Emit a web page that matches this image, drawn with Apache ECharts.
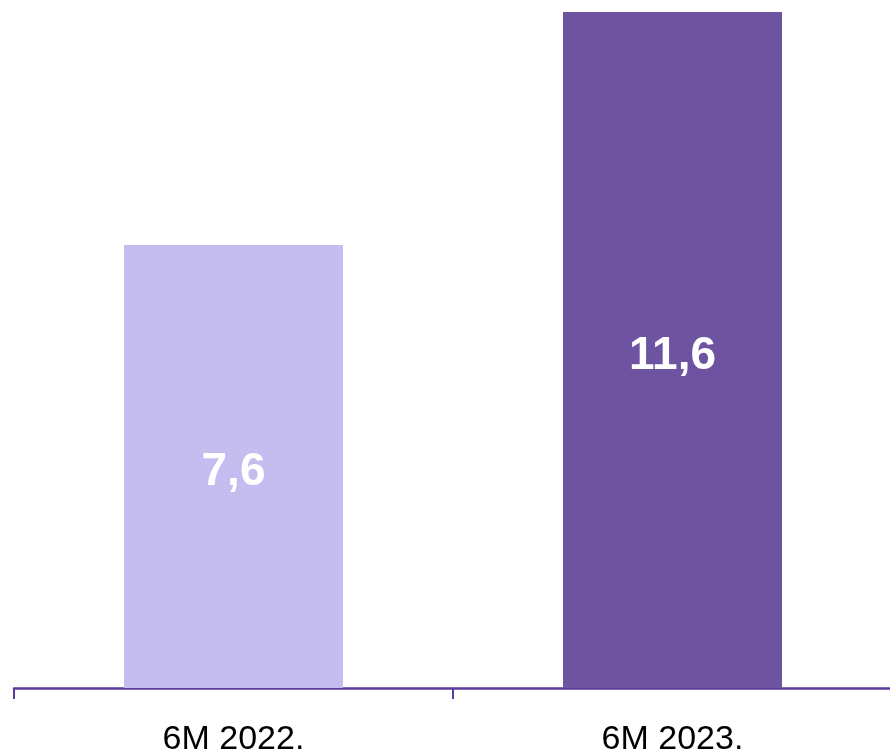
<!DOCTYPE html>
<html>
<head>
<meta charset="utf-8" />
<script src="https://cdn.jsdelivr.net/npm/echarts@6/dist/echarts.min.js"></script>
<style>
  html, body { margin: 0; padding: 0; background: #fff; }
  #chart { width: 890px; height: 752px; }
</style>
</head>
<body>
<div id="chart"></div>
<script>
const categories = ["6M 2022.", "6M 2023."];
const values = [7.6, 11.6];
const barColors = ["#c5bdf0", "#6e53a1"];

const chart = echarts.init(document.getElementById("chart"));
const option = {
  animation: false,
  grid: { left: 14, right: -2, top: 12, bottom: 64, outerBoundsMode: "none" },
  xAxis: {
    type: "category",
    data: categories,
    axisLine: { lineStyle: { color: "#5b3a9e", width: 2.5 } },
    axisTick: { show: true, length: 11, lineStyle: { color: "#5b3a9e", width: 2 } },
    axisLabel: {
      color: "#000",
      fontFamily: "Liberation Sans",
      fontSize: 34,
      margin: 35,
    },
  },
  yAxis: {
    type: "value",
    min: 0,
    max: 11.6,
    show: false,
    splitLine: { show: false },
  },
  series: [
    {
      type: "bar",
      barWidth: 219,
      data: values.map((v, i) => ({
        value: v,
        itemStyle: { color: barColors[i] },
      })),
      label: {
        show: true,
        position: "inside",
        offset: [0, 6],
        color: "#fff",
        fontFamily: "Liberation Sans",
        fontWeight: "bold",
        fontSize: 46,
        formatter: (p) => String(p.value).replace(".", ","),
      },
    },
  ],
};
chart.setOption(option);
</script>
</body>
</html>
